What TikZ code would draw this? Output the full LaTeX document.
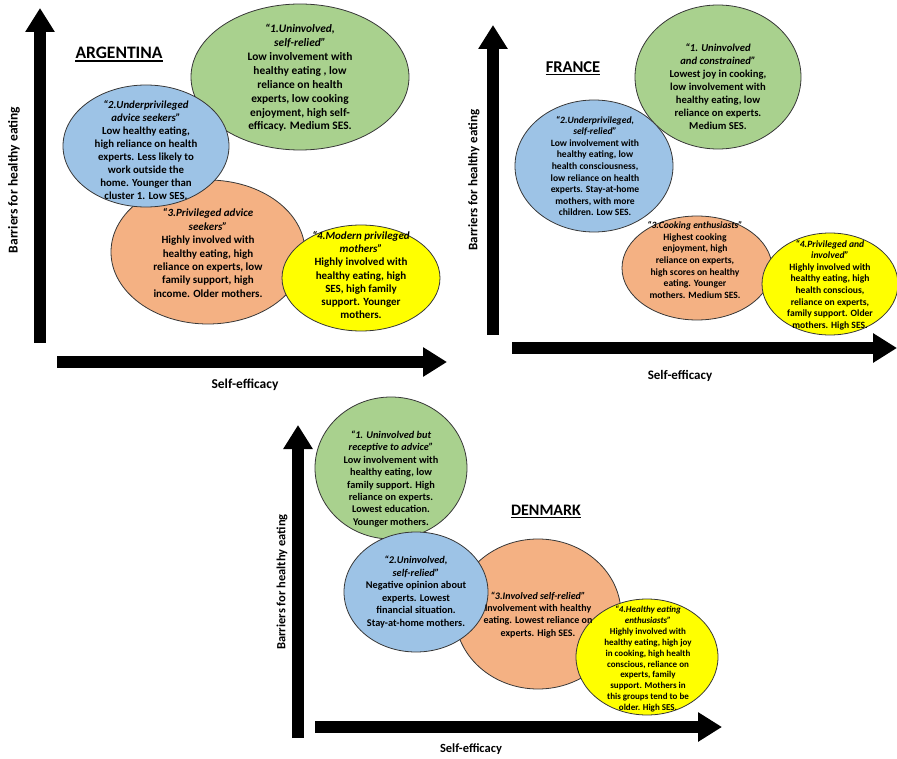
\documentclass[tikz,border=0pt]{standalone}
\usepackage{fontspec}
\setmainfont{Carlito}
\usetikzlibrary{shapes.geometric,arrows.meta}
\definecolor{cgreen}{RGB}{169,209,142}
\definecolor{cblue}{RGB}{157,195,230}
\definecolor{corange}{RGB}{244,177,131}
\definecolor{cyellow}{RGB}{255,255,0}
\definecolor{cline}{RGB}{55,55,55}
\tikzset{
  blob/.style={ellipse, draw=cline, line width=0.8pt, inner sep=0pt},
  gblob/.style={blob, fill=cgreen},
  bblob/.style={blob, fill=cblue},
  oblob/.style={blob, fill=corange},
  yblob/.style={blob, fill=cyellow},
  axisarrow/.style={line width=12pt, -{Triangle[length=24pt,width=28pt]}},
  txt/.style={align=center, inner sep=0pt},
  axlabel/.style={inner sep=0pt},
  heading/.style={inner sep=0pt},
  uline/.style={line width=1.3pt},
}
\newcommand{\ttl}[1]{\textit{#1}}
\newcommand{\fs}[2]{\bfseries\fontsize{#1}{#2}\selectfont}
\begin{document}
\begin{tikzpicture}[x=1pt,y=-1pt]
\useasboundingbox (0,0) rectangle (897,759);

% ---------------- ARGENTINA ----------------
\coordinate (aY0) at (40,343);
\coordinate (aY1) at (40,8);
\coordinate (aX0) at (57,362);
\coordinate (aX1) at (447,362);
\draw[axisarrow] (aY0) -- (aY1);
\draw[axisarrow] (aX0) -- (aX1);
\node[axlabel, rotate=90, font=\fs{13.5}{16}] (aYl) at (14,180) {Barriers for healthy eating};
\node[axlabel, font=\fs{13.5}{16}] (aXl) at (245,385) {Self-efficacy};
\node[heading, font=\fs{17.5}{20}] (aH) at (119,53) {ARGENTINA};
\draw[uline] ([yshift=-2pt]aH.south west) -- ([yshift=-2pt]aH.south east);

\node[gblob, minimum width=218pt, minimum height=146pt] (a1) at (300,77) {};
\node[oblob, minimum width=194pt, minimum height=144pt] (a3) at (208,252) {};
\node[yblob, minimum width=158pt, minimum height=106pt] (a4) at (361,278) {};
\node[bblob, minimum width=166pt, minimum height=122pt] (a2) at (146,146) {};

\node[txt, font=\fs{11.4}{13.9}] (a1t) at (300,78) {\ttl{“1.Uninvolved,}\\\ttl{self-relied”}\\Low involvement with\\healthy eating , low\\reliance on health\\experts, low cooking\\enjoyment, high self-\\efficacy. Medium SES.};
\node[txt, font=\fs{10.8}{13.1}] (a2t) at (146,150) {\ttl{“2.Underprivileged}\\\ttl{advice seekers”}\\Low healthy eating,\\high reliance on health\\experts. Less likely to\\work outside the\\home. Younger than\\cluster 1. Low SES.};
\node[txt, font=\fs{11}{13.4}] (a3t) at (208,253) {\ttl{“3.Privileged advice}\\\ttl{seekers”}\\Highly involved with\\healthy eating, high\\reliance on experts, low\\family support, high\\income. Older mothers.};
\node[txt, font=\fs{11}{13.3}] (a4t) at (361,275) {\ttl{“4.Modern privileged}\\\ttl{mothers”}\\Highly involved with\\healthy eating, high\\SES, high family\\support. Younger\\mothers.};

% ---------------- FRANCE ----------------
\coordinate (fY0) at (493,335);
\coordinate (fY1) at (493,25);
\coordinate (fX0) at (512,348);
\coordinate (fX1) at (897,348);
\draw[axisarrow] (fY0) -- (fY1);
\draw[axisarrow] (fX0) -- (fX1);
\node[axlabel, rotate=90, font=\fs{13}{15}] (fYl) at (474,180) {Barriers for healthy eating};
\node[axlabel, font=\fs{13}{15}] (fXl) at (680,376) {Self-efficacy};
\node[heading, font=\fs{16.5}{19}] (fH) at (573,67) {FRANCE};
\draw[uline] ([yshift=-2pt]fH.south west) -- ([yshift=-2pt]fH.south east);

\node[gblob, minimum width=166pt, minimum height=144pt] (f1) at (718,77) {};
\node[oblob, minimum width=150pt, minimum height=104pt] (f3) at (697,268) {};
\node[yblob, minimum width=136pt, minimum height=102pt] (f4) at (830,284) {};
\node[bblob, minimum width=158pt, minimum height=132pt] (f2) at (594,166) {};

\node[txt, font=\fs{10.6}{13}] (f1t) at (718,87) {\ttl{“1. Uninvolved}\\\ttl{and constrained”}\\Lowest joy in cooking,\\low involvement with\\healthy eating, low\\reliance on experts.\\Medium SES.};
\node[txt, font=\fs{9.6}{11.6}] (f2t) at (595,166) {\ttl{“2.Underprivileged,}\\\ttl{self-relied”}\\Low involvement with\\healthy eating, low\\health consciousness,\\low reliance on health\\experts. Stay-at-home\\mothers, with more\\children. Low SES.};
\node[txt, font=\fs{9.6}{11.7}] (f3t) at (695,260) {\ttl{“3.Cooking enthusiasts”}\\Highest cooking\\enjoyment, high\\reliance on experts,\\high scores on healthy\\eating. Younger\\mothers. Medium SES.};
\node[txt, font=\fs{9.6}{11.6}] (f4t) at (830,285) {\ttl{“4.Privileged and}\\\ttl{involved”}\\Highly involved with\\healthy eating, high\\health conscious,\\reliance on experts,\\family support. Older\\mothers. High SES.};

% ---------------- DENMARK ----------------
\coordinate (dY0) at (298,738);
\coordinate (dY1) at (298,425);
\coordinate (dX0) at (315,727);
\coordinate (dX1) at (722,727);
\draw[axisarrow] (dY0) -- (dY1);
\draw[axisarrow] (dX0) -- (dX1);
\node[axlabel, rotate=90, font=\fs{12.5}{15}] (dYl) at (282,582) {Barriers for healthy eating};
\node[axlabel, font=\fs{12.5}{15}] (dXl) at (471,749) {Self-efficacy};
\node[heading, font=\fs{16}{19}] (dH) at (546,510) {DENMARK};
\draw[uline] ([yshift=-2pt]dH.south west) -- ([yshift=-2pt]dH.south east);

\node[gblob, minimum width=152pt, minimum height=142pt] (d1) at (391,468) {};
\node[oblob, minimum width=166pt, minimum height=150pt] (d3) at (538,614) {};
\node[yblob, minimum width=142pt, minimum height=116pt] (d4) at (647,657) {};
\node[bblob, minimum width=144pt, minimum height=120pt] (d2) at (416,592) {};

\node[txt, font=\fs{10.3}{12.4}] (d1t) at (391,479) {\ttl{“1. Uninvolved but}\\\ttl{receptive to advice”}\\Low involvement with\\healthy eating, low\\family support. High\\reliance on experts.\\Lowest education.\\Younger mothers.};
\node[txt, font=\fs{10.3}{12.6}] (d2t) at (416,592) {\ttl{“2.Uninvolved,}\\\ttl{self-relied”}\\Negative opinion about\\experts. Lowest\\financial situation.\\Stay-at-home mothers.};
\node[txt, font=\fs{10}{12.3}] (d3t) at (538,615) {\ttl{“3.Involved self-relied”}\\Involvement with healthy\\eating. Lowest reliance on\\experts. High SES.};
\node[txt, font=\fs{9}{10.9}] (d4t) at (648,659) {\ttl{“4.Healthy eating}\\\ttl{enthusiasts”}\\Highly involved with\\healthy eating, high joy\\in cooking, high health\\conscious, reliance on\\experts, family\\support. Mothers in\\this groups tend to be\\older. High SES.};
\end{tikzpicture}
\end{document}
